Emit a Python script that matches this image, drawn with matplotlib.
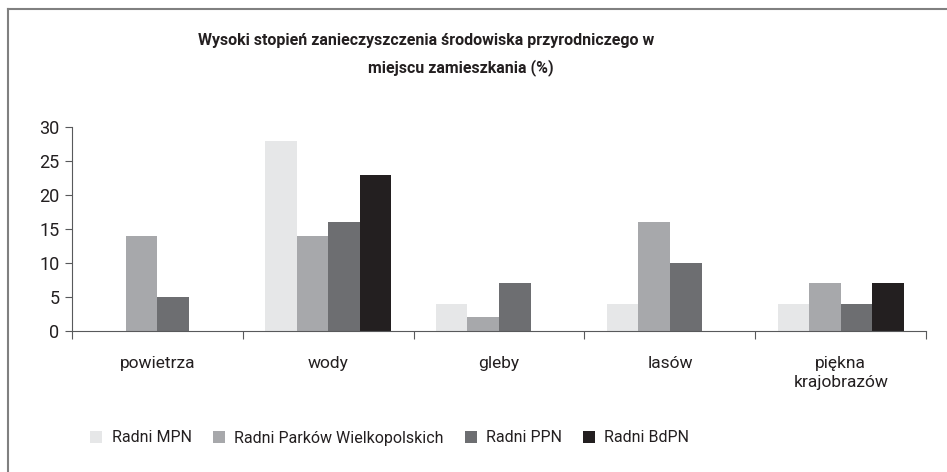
import numpy as np
import matplotlib.pyplot as plt
from matplotlib.lines import Line2D

categories = ["powietrza", "wody", "gleby", "lasów", "piękna\nkrajobrazów"]
series_names = ["Radni MPN", "Radni Parków Wielkopolskich", "Radni PPN", "Radni BdPN"]
mpn = [0, 28, 4, 4, 4]
parki = [14, 14, 2, 16, 7]
ppn = [5, 16, 7, 10, 4]
bdpn = [0, 23, 0, 0, 7]
series = [mpn, parki, ppn, bdpn]
colors = ["#e6e7e8", "#a7a8ab", "#6d6e71", "#231f20"]

plt.rcParams["font.family"] = ["Roboto", "DejaVu Sans"]
text_col = "#231f20"

fig = plt.figure(figsize=(9.47, 4.72), dpi=100)
ax = fig.add_axes([0.076, 0.2987, 0.902, 0.4322])

x = np.arange(len(categories))
w = 0.185
for i, (vals, c, name) in enumerate(zip(series, colors, series_names)):
    ax.bar(x + (i - 1.5) * w, vals, width=w, color=c, label=name, linewidth=0)

ax.set_xlim(-0.5, len(categories) - 0.5)
ax.set_ylim(0, 30)
ax.set_yticks(range(0, 31, 5))
ax.tick_params(axis="y", labelsize=13, length=5, color="#58595b", labelcolor=text_col, pad=4)

# category labels in the middle, ticks at boundaries
ax.set_xticks(np.arange(-0.5, len(categories)), minor=False)
ax.set_xticklabels([""] * (len(categories) + 1))
ax.tick_params(axis="x", length=6, direction="out", color="#58595b")
ax.set_xticks(x, minor=True)
ax.set_xticklabels(categories, minor=True, fontsize=12.5, color=text_col, linespacing=1.3)
ax.tick_params(axis="x", which="minor", length=0, pad=18)

for s in ["top", "right"]:
    ax.spines[s].set_visible(False)
ax.spines["left"].set_color("#58595b")
ax.spines["bottom"].set_color("#58595b")

fig.text(426 / 947, 1 - 40 / 472, "Wysoki stopień zanieczyszczenia środowiska przyrodniczego w",
         ha="center", va="center", fontsize=11.5, fontweight="bold", color=text_col)
fig.text(461 / 947, 1 - 68 / 472, "miejscu zamieszkania (%)",
         ha="center", va="center", fontsize=11.5, fontweight="bold", color=text_col)

leg = fig.legend(loc="center left", bbox_to_anchor=(76 / 947, 1 - 438 / 472), ncol=4,
                 frameon=False, fontsize=11.5, handlelength=0.75, handleheight=0.75,
                 handletextpad=0.6, columnspacing=1.3)
for t in leg.get_texts():
    t.set_color(text_col)

# frame remnant: top and left borders
fig.add_artist(Line2D([8 / 947, 1], [1 - 9 / 472, 1 - 9 / 472], color="#808080", lw=1.5))
fig.add_artist(Line2D([8 / 947, 8 / 947], [0, 1 - 9 / 472], color="#808080", lw=1.5))

fig.savefig("out.png", dpi=100, facecolor="white")
